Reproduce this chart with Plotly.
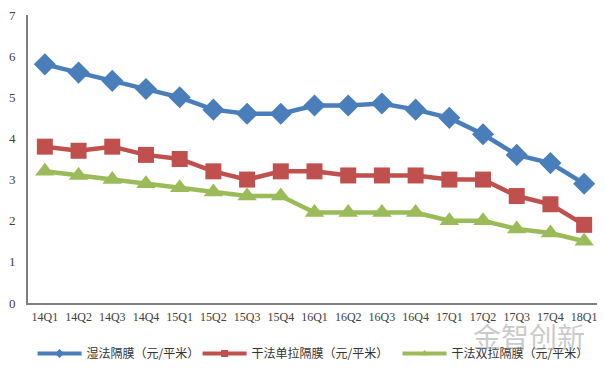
import plotly.graph_objects as go

categories = ["14Q1","14Q2","14Q3","14Q4","15Q1","15Q2","15Q3","15Q4","16Q1","16Q2",
              "16Q3","16Q4","17Q1","17Q2","17Q3","17Q4","18Q1"]
wet = [5.8,5.6,5.4,5.2,5.0,4.7,4.6,4.6,4.8,4.8,4.85,4.7,4.5,4.1,3.6,3.4,2.9]
dry_single = [3.8,3.7,3.8,3.6,3.5,3.2,3.0,3.2,3.2,3.1,3.1,3.1,3.0,3.0,2.6,2.4,1.9]
dry_double = [3.2,3.1,3.0,2.9,2.8,2.7,2.6,2.6,2.2,2.2,2.2,2.2,2.0,2.0,1.8,1.7,1.5]
names = ["湿法隔膜（元/平米）", "干法单拉隔膜（元/平米）", "干法双拉隔膜（元/平米）"]
y_ticks = [0,1,2,3,4,5,6,7]

colors = ["#4a7ebb", "#c0504d", "#9bbb59"]
symbols = ["diamond", "square", "triangle-up"]
sizes = [17, 16, 17]
series = [wet, dry_single, dry_double]
legend_ids = ["legend", "legend2", "legend3"]
legend_x = [0.008, 0.296, 0.645]

fig = go.Figure()
for vals, nm, c, s, sz in zip(series, names, colors, symbols, sizes):
    fig.add_trace(go.Scatter(x=categories, y=vals, name=nm, mode="lines+markers",
                             line=dict(color=c, width=4.5),
                             marker=dict(symbol=s, size=sz, color=c), showlegend=False))
for nm, c, s, lg in zip(names, colors, symbols, legend_ids):
    fig.add_trace(go.Scatter(x=[None], y=[None], name=nm, mode="lines+markers",
                             line=dict(color=c, width=4),
                             marker=dict(symbol=s, size=7, color=c), showlegend=True,
                             legend=lg))

legend_common = dict(orientation="h", y=-0.125, xanchor="left", yanchor="top",
                     font=dict(family="Noto Sans CJK SC", size=12, color="#333"),
                     itemwidth=44, bgcolor="rgba(0,0,0,0)")

fig.update_layout(
    width=597, height=363,
    margin=dict(l=20, r=4, t=7, b=68, autoexpand=False),
    paper_bgcolor="white", plot_bgcolor="white",
    legend=dict(x=legend_x[0], **legend_common),
    legend2=dict(x=legend_x[1], **legend_common),
    legend3=dict(x=legend_x[2], **legend_common),
    font=dict(family="Liberation Serif", size=12, color="#404040"),
    annotations=[dict(text="金智创新", x=0.976, y=-0.116, xref="paper", yref="paper",
                      xanchor="right", yanchor="middle", showarrow=False,
                      font=dict(family="Noto Sans CJK SC", size=28, color="rgba(150,150,150,0.5)"))],
)
fig.update_xaxes(type="category", range=[-0.5, len(categories) - 0.5],
                 showgrid=False, showline=True, linecolor="#808080",
                 linewidth=2, ticks="", tickangle=0, automargin=False, ticklabelstandoff=2,
                 tickfont=dict(family="Liberation Serif", size=12, color="#404040"))
fig.update_yaxes(range=[0,7], tickvals=y_ticks, showgrid=False, showline=True,
                 linecolor="#808080", linewidth=2, ticks="", zeroline=False, automargin=False,
                 ticklabelstandoff=8, ticklabeloverflow="allow",
                 tickfont=dict(family="Liberation Serif", size=13, color="#404040"))

fig.write_html("out.html")
